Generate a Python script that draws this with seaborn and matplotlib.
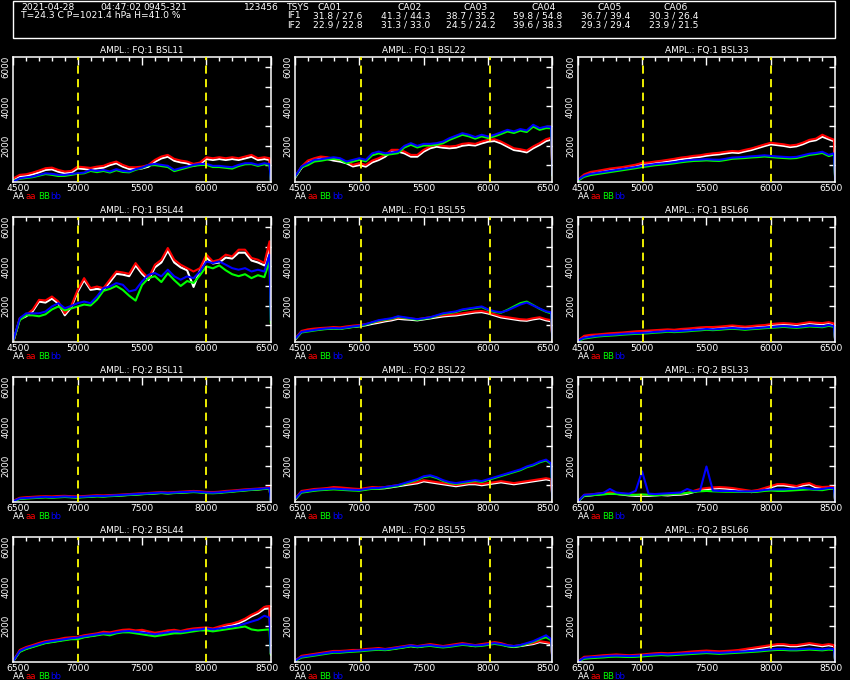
import numpy as np
import pandas as pd
import seaborn as sns
import matplotlib.pyplot as plt
import matplotlib.transforms as mtrans
from matplotlib.patches import Rectangle
from matplotlib.ticker import FixedLocator

# channel offsets inside each band (band starts at 4500 for FQ:1, 6500 for FQ:2)
CHAN = list(range(0, 2000, 50)) + [1990, 2000]
BAND_START = {1: 4500, 2: 6500}
# dashed yellow markers per column
MARKS = {1: [(5000, 6000), (5010, 6015), (5005, 6000)],
         2: [(7000, 8000), (7010, 8015), (6990, 8000)]}

# ---- FQ:1 ----
F1_11_AA = [230, 410, 440, 530, 630, 750, 780, 660, 580, 610, 830, 800, 760, 830, 870, 1000, 1090, 920, 800, 800,
            830, 920, 1170, 1340, 1430, 1220, 1140, 1090, 970, 1040, 1310, 1260, 1310, 1260, 1310, 1260, 1340, 1430, 1260, 1310, 1260, 200]
F1_11_aa = [320, 500, 530, 615, 720, 840, 870, 750, 670, 700, 920, 890, 855, 920, 960, 1090, 1180, 1010, 890, 890,
            920, 1010, 1265, 1436, 1520, 1316, 1230, 1180, 1060, 1130, 1400, 1350, 1400, 1350, 1400, 1350, 1436, 1520, 1350, 1400, 1350, 240]
F1_11_BB = [200, 300, 340, 380, 460, 540, 500, 440, 450, 500, 560, 580, 700, 640, 700, 620, 740, 650, 630, 760,
            850, 980, 1000, 950, 900, 690, 780, 870, 960, 1000, 1010, 900, 900, 860, 820, 950, 1040, 1050, 960, 1040, 1000, 220]
F1_11_bb = [150, 325, 375, 410, 500, 580, 550, 500, 500, 550, 580, 615, 750, 700, 750, 670, 790, 700, 670, 790,
            870, 1010, 1060, 1010, 960, 750, 840, 920, 1010, 1060, 1060, 960, 960, 920, 890, 1010, 1094, 1094, 1010, 1094, 1050, 240]

F1_22_AA = [350, 850, 1150, 1260, 1340, 1310, 1230, 1180, 1090, 930, 1000, 920, 1140, 1260, 1430, 1690, 1690, 1600, 1430, 1430,
            1690, 1860, 1940, 1890, 1860, 1890, 1990, 2030, 2000, 2110, 2200, 2230, 2110, 1940, 1770, 1720, 1650, 1860, 2030, 2230, 2300, 500]
F1_22_aa = [410, 920, 1230, 1350, 1436, 1400, 1316, 1265, 1180, 1010, 1094, 1010, 1230, 1350, 1520, 1780, 1780, 1690, 1520, 1520,
            1780, 1950, 2030, 1980, 1950, 1980, 2085, 2120, 2085, 2200, 2290, 2320, 2200, 2030, 1860, 1810, 1740, 1950, 2120, 2320, 2400, 580]
F1_22_BB = [380, 880, 1000, 1180, 1220, 1280, 1320, 1270, 1100, 1180, 1270, 1190, 1500, 1600, 1520, 1560, 1610, 1900, 2040, 1900,
            2000, 2000, 2040, 2120, 2290, 2420, 2550, 2470, 2350, 2470, 2380, 2470, 2590, 2720, 2640, 2760, 2690, 2970, 2800, 2890, 2880, 450]
F1_22_bb = [410, 920, 1094, 1265, 1300, 1350, 1400, 1350, 1180, 1265, 1350, 1265, 1600, 1690, 1600, 1640, 1690, 1980, 2120, 1980,
            2085, 2085, 2120, 2200, 2375, 2500, 2630, 2550, 2430, 2550, 2460, 2550, 2670, 2800, 2720, 2840, 2770, 3060, 2890, 2970, 2950, 500]

F1_33_AA = [200, 450, 580, 620, 690, 740, 780, 830, 880, 940, 1030, 1050, 1100, 1140, 1190, 1240, 1300, 1340, 1390, 1420,
            1480, 1520, 1550, 1600, 1640, 1620, 1700, 1770, 1870, 1970, 2060, 2020, 1980, 1920, 1960, 2070, 2210, 2270, 2450, 2320, 2220, 200]
F1_33_aa = [240, 520, 650, 700, 760, 820, 860, 900, 960, 1020, 1110, 1130, 1180, 1220, 1270, 1320, 1380, 1420, 1470, 1500,
            1560, 1600, 1630, 1680, 1720, 1700, 1780, 1850, 1950, 2050, 2140, 2100, 2060, 2000, 2040, 2150, 2290, 2350, 2550, 2400, 2300, 240]
F1_33_BB = [200, 400, 490, 540, 590, 640, 690, 740, 790, 840, 900, 940, 990, 1020, 1050, 1090, 1140, 1180, 1210, 1220,
            1240, 1220, 1210, 1260, 1320, 1340, 1360, 1390, 1410, 1440, 1410, 1380, 1360, 1340, 1360, 1440, 1520, 1560, 1620, 1460, 1540, 200]
F1_33_bb = [240, 450, 550, 600, 650, 700, 750, 800, 850, 900, 960, 1000, 1050, 1080, 1110, 1150, 1200, 1240, 1270, 1280,
            1300, 1280, 1270, 1320, 1380, 1400, 1420, 1450, 1470, 1500, 1470, 1440, 1420, 1400, 1420, 1500, 1580, 1620, 1680, 1520, 1600, 240]

F1_44_AA = [150, 1300, 1450, 1700, 2200, 2150, 2350, 2100, 1500, 1900, 2700, 3300, 2800, 2850, 2800, 3200, 3620, 3580, 3500, 4050,
            3620, 3300, 3950, 4200, 4800, 4200, 3950, 3800, 2950, 3800, 4450, 4150, 4200, 4450, 4400, 4700, 4700, 4300, 4200, 4050, 5000, 1900]
F1_44_aa = [150, 1350, 1520, 1780, 2290, 2260, 2460, 2200, 1600, 1980, 2800, 3400, 2890, 2970, 2890, 3320, 3740, 3690, 3620, 4170,
            3740, 3400, 4085, 4340, 4940, 4340, 4085, 3910, 3740, 3910, 4600, 4255, 4340, 4600, 4510, 4855, 4855, 4430, 4340, 4170, 5280, 2030]
F1_44_BB = [200, 1250, 1500, 1500, 1450, 1550, 1800, 1950, 1750, 1850, 1950, 2050, 2000, 2300, 2750, 2850, 3000, 2800, 2500, 2250,
            3050, 3400, 3500, 3200, 3650, 3300, 3000, 3250, 3150, 3550, 4000, 3900, 4050, 3800, 3600, 3500, 3600, 3400, 3550, 3450, 4300, 1100]
F1_44_bb = [240, 1350, 1600, 1600, 1600, 1690, 1950, 2120, 1860, 1980, 2120, 2200, 2120, 2460, 2890, 2970, 3145, 3060, 2720, 2800,
            3230, 3570, 3660, 3490, 3830, 3490, 3320, 3490, 3400, 3740, 4255, 4170, 4255, 4085, 3910, 3830, 3910, 3740, 3830, 3740, 4600, 1265]

F1_55_AA = [250, 640, 720, 760, 790, 810, 840, 820, 870, 910, 940, 990, 1060, 1120, 1190, 1240, 1320, 1290, 1270, 1240,
            1290, 1340, 1390, 1440, 1470, 1490, 1540, 1590, 1640, 1660, 1590, 1490, 1390, 1340, 1290, 1240, 1220, 1290, 1340, 1240, 1190, 200]
F1_55_aa = [300, 700, 780, 820, 850, 870, 900, 880, 930, 970, 1000, 1050, 1120, 1180, 1250, 1300, 1380, 1350, 1330, 1300,
            1350, 1400, 1450, 1500, 1530, 1550, 1600, 1650, 1700, 1720, 1650, 1550, 1450, 1400, 1350, 1300, 1280, 1350, 1400, 1300, 1250, 250]
F1_55_BB = [280, 620, 670, 720, 770, 800, 820, 800, 850, 900, 940, 1020, 1120, 1220, 1270, 1320, 1420, 1370, 1320, 1270,
            1320, 1370, 1470, 1570, 1620, 1670, 1770, 1820, 1870, 1920, 1770, 1670, 1630, 1780, 1950, 2120, 2200, 2020, 1830, 1680, 1600, 280]
F1_55_bb = [300, 650, 700, 750, 800, 830, 850, 830, 880, 930, 970, 1050, 1150, 1250, 1300, 1350, 1450, 1400, 1350, 1300,
            1350, 1400, 1500, 1600, 1650, 1700, 1800, 1850, 1900, 1950, 1800, 1700, 1650, 1750, 1900, 2050, 2150, 2000, 1850, 1700, 1650, 300]

F1_66_AA = [180, 400, 450, 470, 500, 530, 550, 570, 600, 630, 650, 670, 690, 710, 730, 710, 750, 770, 800, 830,
            850, 850, 870, 900, 930, 900, 870, 900, 930, 950, 1000, 1030, 1050, 1030, 1000, 1050, 1100, 1070, 1050, 1100, 1030, 180]
F1_66_aa = [200, 450, 500, 520, 550, 580, 600, 620, 650, 680, 700, 720, 740, 760, 780, 760, 800, 820, 850, 880,
            900, 900, 920, 950, 980, 950, 920, 950, 980, 1000, 1050, 1080, 1100, 1080, 1050, 1100, 1150, 1120, 1100, 1150, 1080, 200]
F1_66_BB = [180, 310, 360, 410, 440, 460, 480, 510, 530, 550, 560, 580, 610, 630, 660, 640, 660, 680, 710, 730,
            760, 740, 760, 790, 810, 790, 760, 790, 810, 840, 860, 880, 910, 880, 860, 890, 930, 910, 890, 960, 910, 180]
F1_66_bb = [200, 350, 400, 450, 480, 500, 520, 550, 570, 590, 600, 620, 650, 670, 700, 680, 700, 720, 750, 770,
            800, 780, 800, 830, 850, 830, 800, 830, 850, 880, 900, 920, 950, 920, 900, 930, 970, 950, 930, 1000, 950, 200]

# ---- FQ:2 ----
F2_11_AA = [180, 310, 340, 360, 380, 390, 380, 400, 410, 390, 380, 400, 420, 440, 430, 450, 460, 480, 500, 520,
            540, 560, 580, 600, 580, 600, 620, 640, 660, 640, 610, 600, 620, 660, 680, 710, 740, 760, 780, 810, 860, 180]
F2_11_aa = [200, 350, 380, 400, 420, 430, 420, 440, 450, 430, 420, 440, 460, 480, 470, 490, 500, 520, 540, 560,
            580, 600, 620, 640, 620, 640, 660, 680, 700, 680, 650, 640, 660, 700, 720, 750, 780, 800, 820, 850, 900, 200]
F2_11_BB = [160, 290, 310, 330, 350, 370, 350, 370, 390, 370, 360, 380, 400, 420, 410, 430, 450, 470, 490, 510,
            530, 550, 570, 590, 570, 590, 610, 620, 640, 620, 590, 580, 600, 630, 660, 690, 720, 750, 770, 800, 820, 180]
F2_11_bb = [180, 320, 340, 360, 380, 400, 380, 400, 420, 400, 390, 410, 430, 450, 440, 460, 480, 500, 520, 540,
            560, 580, 600, 620, 600, 620, 640, 650, 670, 650, 620, 610, 630, 660, 690, 720, 750, 780, 800, 830, 850, 200]

F2_22_AA = [250, 640, 690, 740, 760, 790, 840, 820, 790, 760, 740, 790, 840, 820, 840, 890, 940, 990, 1040, 1090,
            1190, 1140, 1090, 1040, 990, 940, 990, 1040, 1040, 990, 1040, 1090, 1140, 1090, 1040, 1090, 1140, 1190, 1240, 1290, 1240, 200]
F2_22_aa = [300, 700, 750, 800, 820, 850, 900, 880, 850, 820, 800, 850, 900, 880, 900, 950, 1000, 1050, 1100, 1150,
            1250, 1200, 1150, 1100, 1050, 1000, 1050, 1100, 1100, 1050, 1100, 1150, 1200, 1150, 1100, 1150, 1200, 1250, 1300, 1350, 1300, 250]
F2_22_BB = [280, 610, 660, 710, 740, 760, 780, 760, 740, 720, 710, 760, 810, 810, 860, 910, 960, 1060, 1160, 1260,
            1410, 1460, 1360, 1210, 1110, 1060, 1110, 1160, 1210, 1160, 1260, 1360, 1460, 1560, 1660, 1760, 1910, 2010, 2160, 2260, 2060, 280]
F2_22_bb = [300, 650, 700, 750, 780, 800, 820, 800, 780, 760, 750, 800, 850, 850, 900, 950, 1000, 1100, 1200, 1300,
            1450, 1500, 1400, 1250, 1150, 1100, 1150, 1200, 1250, 1200, 1300, 1400, 1500, 1600, 1700, 1800, 1950, 2050, 2200, 2300, 2100, 300]

F2_33_AA = [150, 450, 470, 510, 550, 570, 550, 510, 470, 450, 450, 450, 470, 490, 470, 500, 510, 550, 640, 740,
            790, 820, 840, 820, 790, 740, 690, 640, 690, 790, 880, 980, 980, 930, 880, 980, 1030, 880, 840, 860, 840, 150]
F2_33_aa = [150, 500, 520, 560, 600, 620, 600, 560, 520, 500, 500, 500, 520, 540, 520, 550, 560, 600, 700, 800,
            850, 880, 900, 880, 850, 800, 750, 700, 750, 850, 950, 1050, 1050, 1000, 950, 1050, 1100, 950, 900, 920, 900, 150]
F2_33_BB = [150, 450, 480, 500, 520, 560, 540, 520, 500, 500, 520, 500, 480, 500, 520, 540, 560, 600, 650, 680,
            700, 680, 670, 660, 660, 650, 650, 650, 660, 700, 720, 700, 700, 720, 740, 760, 780, 750, 740, 800, 820, 150]
F2_33_bb = [150, 500, 520, 560, 600, 800, 620, 580, 560, 700, 1700, 560, 540, 560, 580, 600, 620, 800, 680, 720,
            1950, 720, 700, 700, 700, 680, 680, 680, 700, 750, 780, 780, 780, 800, 820, 850, 820, 780, 800, 850, 850, 150]

F2_44_AA = [180, 680, 820, 920, 1030, 1120, 1170, 1220, 1290, 1320, 1340, 1420, 1470, 1520, 1600, 1570, 1640, 1700, 1720, 1670,
            1700, 1620, 1550, 1600, 1670, 1700, 1640, 1720, 1770, 1800, 1820, 1770, 1870, 1960, 2020, 2120, 2270, 2470, 2620, 2850, 2880, 550]
F2_44_aa = [200, 750, 900, 1000, 1110, 1200, 1250, 1300, 1370, 1400, 1420, 1500, 1550, 1600, 1680, 1650, 1720, 1780, 1800, 1750,
            1780, 1700, 1630, 1680, 1750, 1780, 1720, 1800, 1850, 1880, 1900, 1850, 1950, 2040, 2100, 2200, 2350, 2550, 2700, 2950, 3000, 600]
F2_44_BB = [200, 650, 800, 900, 1000, 1100, 1150, 1200, 1250, 1300, 1300, 1400, 1450, 1500, 1550, 1500, 1600, 1650, 1650, 1600,
            1550, 1500, 1450, 1500, 1550, 1600, 1600, 1650, 1700, 1750, 1750, 1700, 1750, 1800, 1850, 1900, 1950, 1800, 1750, 1780, 1800, 500]
F2_44_bb = [200, 700, 850, 950, 1050, 1150, 1200, 1250, 1300, 1350, 1380, 1450, 1500, 1550, 1600, 1580, 1650, 1700, 1720, 1680,
            1650, 1600, 1550, 1600, 1650, 1700, 1680, 1720, 1780, 1800, 1850, 1800, 1850, 1900, 1950, 2000, 2100, 2200, 2300, 2500, 2400, 600]

F2_55_AA = [180, 400, 450, 500, 550, 600, 650, 650, 670, 700, 700, 750, 770, 800, 750, 800, 850, 900, 950, 900,
            950, 1000, 950, 900, 950, 1000, 1050, 1000, 950, 1000, 1050, 1100, 1050, 950, 900, 950, 1000, 1050, 1150, 1100, 1050, 180]
F2_55_aa = [200, 450, 500, 550, 600, 650, 700, 700, 720, 750, 750, 800, 820, 850, 800, 850, 900, 950, 1000, 950,
            1000, 1050, 1000, 950, 1000, 1050, 1100, 1050, 1000, 1050, 1100, 1150, 1100, 1000, 950, 1000, 1050, 1100, 1200, 1150, 1100, 200]
F2_55_BB = [180, 360, 410, 460, 510, 560, 610, 610, 640, 660, 680, 710, 740, 760, 740, 780, 830, 880, 940, 890,
            930, 960, 910, 880, 910, 960, 1010, 980, 940, 960, 1010, 1060, 1010, 940, 910, 960, 1060, 1160, 1300, 1400, 1250, 180]
F2_55_bb = [200, 400, 450, 500, 550, 600, 650, 650, 680, 700, 720, 750, 780, 800, 780, 820, 870, 920, 980, 930,
            970, 1000, 950, 920, 950, 1000, 1050, 1020, 980, 1000, 1050, 1100, 1050, 980, 950, 1000, 1100, 1200, 1350, 1500, 1300, 200]

F2_66_AA = [150, 340, 360, 390, 420, 440, 460, 440, 420, 440, 460, 490, 520, 540, 520, 540, 560, 590, 620, 640,
            660, 640, 620, 640, 660, 690, 740, 790, 840, 890, 940, 990, 990, 940, 940, 990, 1040, 990, 940, 990, 940, 150]
F2_66_aa = [150, 400, 420, 450, 480, 500, 520, 500, 480, 500, 520, 550, 580, 600, 580, 600, 620, 650, 680, 700,
            720, 700, 680, 700, 720, 750, 800, 850, 900, 950, 1000, 1050, 1050, 1000, 1000, 1050, 1100, 1050, 1000, 1050, 1000, 150]
F2_66_BB = [150, 300, 330, 350, 370, 400, 410, 400, 390, 400, 420, 450, 470, 490, 470, 490, 510, 530, 550, 570,
            590, 570, 550, 570, 590, 610, 630, 650, 670, 700, 730, 750, 750, 730, 730, 750, 770, 750, 730, 770, 750, 150]
F2_66_bb = [150, 350, 380, 400, 420, 450, 460, 450, 440, 450, 470, 500, 520, 540, 520, 540, 560, 580, 600, 620,
            640, 620, 600, 620, 640, 660, 680, 700, 720, 750, 780, 800, 800, 780, 780, 800, 820, 800, 780, 820, 800, 150]

PANELS = [
    (1, 'BSL11', F1_11_AA, F1_11_aa, F1_11_BB, F1_11_bb),
    (1, 'BSL22', F1_22_AA, F1_22_aa, F1_22_BB, F1_22_bb),
    (1, 'BSL33', F1_33_AA, F1_33_aa, F1_33_BB, F1_33_bb),
    (1, 'BSL44', F1_44_AA, F1_44_aa, F1_44_BB, F1_44_bb),
    (1, 'BSL55', F1_55_AA, F1_55_aa, F1_55_BB, F1_55_bb),
    (1, 'BSL66', F1_66_AA, F1_66_aa, F1_66_BB, F1_66_bb),
    (2, 'BSL11', F2_11_AA, F2_11_aa, F2_11_BB, F2_11_bb),
    (2, 'BSL22', F2_22_AA, F2_22_aa, F2_22_BB, F2_22_bb),
    (2, 'BSL33', F2_33_AA, F2_33_aa, F2_33_BB, F2_33_bb),
    (2, 'BSL44', F2_44_AA, F2_44_aa, F2_44_BB, F2_44_bb),
    (2, 'BSL55', F2_55_AA, F2_55_aa, F2_55_BB, F2_55_bb),
    (2, 'BSL66', F2_66_AA, F2_66_aa, F2_66_BB, F2_66_bb),
]

POLS = ['AA', 'aa', 'BB', 'bb']
COLORS = {'AA': '#ffffff', 'aa': '#ff0000', 'BB': '#00ff00', 'bb': '#0000ff'}

# header table
HEAD_ROW1 = [(21, '2021-04-28'), (100, '04:47:02'), (143, '0945-321'), (244, '123456'), (287, 'TSYS'),
             (318, 'CA01'), (397, 'CA02'), (463, 'CA03'), (531, 'CA04'), (597, 'CA05'), (664, 'CA06')]
IF1 = ['31.8 / 27.6', '41.3 / 44.3', '38.7 / 35.2', '59.8 / 54.8', '36.7 / 39.4', '30.3 / 26.4']
IF2 = ['22.9 / 22.8', '31.3 / 33.0', '24.5 / 24.2', '39.6 / 38.3', '29.3 / 29.4', '23.9 / 21.5']
IF_X = [313, 381, 446, 513, 581, 649]

sns.set_theme(style='dark')
plt.rcParams.update({
    'figure.facecolor': 'black', 'axes.facecolor': 'black', 'savefig.facecolor': 'black',
    'axes.edgecolor': 'white', 'axes.linewidth': 1.1, 'text.color': 'white',
    'xtick.color': 'white', 'ytick.color': 'white', 'axes.grid': False,
    'font.family': ['DejaVu Sans'],
})

W, H = 850, 680
fig = plt.figure(figsize=(W / 100, H / 100), dpi=100)

def fx(px):
    return px / W

def fy(py):
    return 1 - py / H

# header box and text
HF = 6.6
fig.patches.append(Rectangle((fx(13), fy(38)), fx(822), 37 / H, transform=fig.transFigure,
                             fill=False, edgecolor='white', lw=1.0))
for x, s in HEAD_ROW1:
    fig.text(fx(x), fy(7), s, fontsize=HF, va='center', ha='left')
fig.text(fx(21), fy(16), 'T=24.3 C P=1021.4 hPa H=41.0 %', fontsize=HF, va='center', ha='left')
fig.text(fx(287), fy(16), 'IF1', fontsize=HF, va='center', ha='left')
fig.text(fx(287), fy(25.5), 'IF2', fontsize=HF, va='center', ha='left')
for x, a, b in zip(IF_X, IF1, IF2):
    fig.text(fx(x), fy(16), a, fontsize=HF, va='center', ha='left')
    fig.text(fx(x), fy(25.5), b, fontsize=HF, va='center', ha='left')

COL_LEFT = [13.3, 295, 577.7]
ROW_TOP = [57.3, 217.3, 377.3, 537.3]
AX_W, AX_H = 257.5, 124.4

shift_r = mtrans.ScaledTranslation(5 / 100, 0, fig.dpi_scale_trans)
shift_l = mtrans.ScaledTranslation(-4 / 100, 0, fig.dpi_scale_trans)

for k, (fq, bsl, AA, aa, BB, bb) in enumerate(PANELS):
    r, c = divmod(k, 3)
    left, top = COL_LEFT[c], ROW_TOP[r]
    ax = fig.add_axes([fx(left), fy(top + AX_H), AX_W / W, AX_H / H])
    start = BAND_START[fq]
    chan = [start + v for v in CHAN]
    df = pd.DataFrame({
        'chan': chan * 4,
        'amp': AA + aa + BB + bb,
        'pol': [p for p in POLS for _ in chan],
    })
    sns.lineplot(data=df, x='chan', y='amp', hue='pol', hue_order=POLS, palette=COLORS,
                 legend=False, ax=ax, linewidth=1.5, estimator=None)
    for xm in MARKS[fq][c]:
        ax.axvline(xm, color='#ffff00', lw=1.3, dashes=(4.5, 3), zorder=5)
    ax.set_xlim(start, start + 2000)
    ax.set_ylim(150, 6510)
    ax.set_xlabel('')
    ax.set_ylabel('')
    ax.set_title(f'AMPL.: FQ:{fq} {bsl}', fontsize=6.4, color='white', pad=3)
    ax.set_xticks(range(start, start + 2001, 500))
    ax.xaxis.set_minor_locator(FixedLocator(range(start, start + 2001, 100)))
    ax.set_yticks([2000, 4000, 6000])
    ax.yaxis.set_minor_locator(FixedLocator([1000, 3000, 5000]))
    ax.tick_params(axis='both', which='both', direction='in', top=True, right=True,
                   width=1.0, colors='white')
    ax.tick_params(axis='x', which='major', length=6, pad=1.5, labelsize=6.6)
    ax.tick_params(axis='x', which='minor', length=3)
    ax.tick_params(axis='y', which='both', length=4, pad=2, labelsize=6.3)
    for lab in ax.get_yticklabels():
        lab.set_rotation(90)
        lab.set_va('center')
    xt = ax.xaxis.get_major_ticks()
    xt[0].label1.set_transform(xt[0].label1.get_transform() + shift_r)
    xt[-1].label1.set_transform(xt[-1].label1.get_transform() + shift_l)
    for sp in ax.spines.values():
        sp.set_color('white')
    # colored pol legend under the panel
    for dx, p in zip([0, 12.5, 24.5, 37], POLS):
        fig.text(fx(left + dx), fy(top + AX_H + 15), p, color=COLORS[p], fontsize=6.2,
                 va='center', ha='left')

fig.savefig('out.png', dpi=100, facecolor='black')
